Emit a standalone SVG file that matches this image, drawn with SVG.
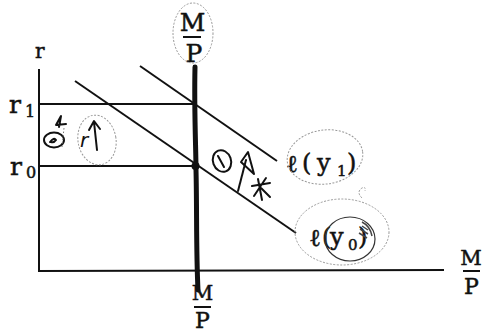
<svg xmlns="http://www.w3.org/2000/svg" width="483" height="335" viewBox="0 0 483 335">
<style>
.ax{stroke:#111;stroke-width:2;fill:none;stroke-linecap:square}
.ln{stroke:#111;stroke-width:2;fill:none}
.t{font-family:"DejaVu Serif","Liberation Serif",serif;fill:#111;stroke:#111;stroke-width:0.5}
.hand{stroke:#999;stroke-width:1;fill:none;stroke-dasharray:2 1.5}
.ink{stroke:#111;stroke-width:2;fill:none;stroke-linecap:round;stroke-linejoin:round}
</style>
<rect width="483" height="335" fill="#fff"/>
<g id="axes">
<line class="ax" x1="39" y1="70" x2="39" y2="271"/>
<line class="ax" x1="39" y1="271" x2="443" y2="270"/>
</g>
<g id="connectors">
<line class="ln" x1="39" y1="104" x2="195" y2="104"/>
<line class="ln" x1="39" y1="166" x2="195" y2="166"/>
<line class="ln" x1="75" y1="81" x2="296" y2="233"/>
<line class="ln" x1="140" y1="66" x2="277" y2="161"/>
<path d="M195,67 C194,110 196,150 196,170 C197,210 196,250 198,290" stroke="#111" stroke-width="5" fill="none" stroke-linecap="round"/>
<circle cx="195.5" cy="166" r="4" fill="#111"/>
</g>
<g id="label-r"><text class="t" x="35" y="58" font-size="20">r</text></g>
<g id="label-r1"><text class="t" x="9" y="113" font-size="25">r<tspan x="25" y="117" font-size="16">1</tspan></text></g>
<g id="label-r0"><text class="t" x="10" y="175" font-size="25">r<tspan x="26" y="178" font-size="16">0</tspan></text></g>
<g id="label-mp-top">
<text class="t" x="192.5" y="31" font-size="25" text-anchor="middle">M</text>
<line x1="183" y1="37" x2="201" y2="37" stroke="#111" stroke-width="2"/>
<text class="t" x="194" y="62" font-size="25" text-anchor="middle">P</text>
</g>
<g id="label-mp-bottom">
<text class="t" x="202.5" y="300" font-size="21" text-anchor="middle">M</text>
<line x1="194" y1="307" x2="211" y2="307" stroke="#111" stroke-width="2"/>
<text class="t" x="202.5" y="328" font-size="22" text-anchor="middle">P</text>
</g>
<g id="label-mp-right">
<text class="t" x="471" y="265" font-size="21" text-anchor="middle">M</text>
<line x1="463" y1="271" x2="480" y2="271" stroke="#111" stroke-width="2"/>
<text class="t" x="471.5" y="294" font-size="22" text-anchor="middle">P</text>
</g>
<g id="label-ly1">
<text class="t" font-size="24"><tspan x="286" y="172">ℓ</tspan><tspan x="302" y="171">(</tspan><tspan x="317" y="171">y</tspan><tspan x="337" y="176" font-size="15">1</tspan><tspan x="347" y="171">)</tspan></text>
</g>
<g id="label-ly0">
<text class="t" font-size="24"><tspan x="309" y="246">ℓ</tspan><tspan x="322" y="245">(</tspan><tspan x="330" y="245">y</tspan><tspan x="348" y="250" font-size="15">0</tspan><tspan x="358" y="245">)</tspan></text>
</g>
<g id="annotations">
<ellipse class="hand" cx="193" cy="33" rx="20" ry="30"/>
<ellipse class="hand" cx="97" cy="140" rx="19" ry="25" transform="rotate(-10 97 140)"/>
<ellipse class="hand" cx="325" cy="157" rx="38" ry="27" transform="rotate(-8 325 157)"/>
<ellipse class="hand" cx="342" cy="232" rx="47" ry="33"/>
<ellipse cx="350" cy="239" rx="25" ry="22" stroke="#333" stroke-width="1.2" fill="none"/>
<path d="M362,226 l6,4 M360,229 l8,5 M359,233 l8,5 M362,222 q8,4 10,14" stroke="#444" stroke-width="1.5" fill="none"/>
<path class="hand" d="M362,198 q-6,-6 0,-10 q4,-2 3,3"/>
<ellipse cx="54" cy="140" rx="10" ry="7.5" class="ink"/>
<path class="ink" d="M50,142 q4,-5 6,-2 q-2,3 -5,2" stroke-width="1.6"/>
<path class="ink" d="M59,127 L61,116 L56,125 L66,124" stroke-width="1.5"/>
<path d="M62,147 L64,128" stroke="#777" stroke-width="1" stroke-dasharray="1.5 2" fill="none"/>
<text x="80" y="147" font-size="20" font-family="DejaVu Sans,sans-serif" fill="#111" font-style="italic">r</text>
<path class="ink" d="M97,150 L94,122 M89,130 L94,121 L100,129" stroke-width="2.2"/>
<ellipse cx="222" cy="161" rx="9" ry="11" class="ink" transform="rotate(-20 222 161)"/>
<path class="ink" d="M218,156 L224,167" stroke-width="1.5"/>
<path class="ink" d="M238,191 L246,160"/>
<path class="ink" d="M241,162 L248,152 L254,174 Z" stroke-width="1.6"/>
<path class="ink" d="M252,186 L270,183 M258,179 L262,200 M266,178 L254,196 M261,188 L270,197" stroke-width="1.8"/>
</g>
</svg>
